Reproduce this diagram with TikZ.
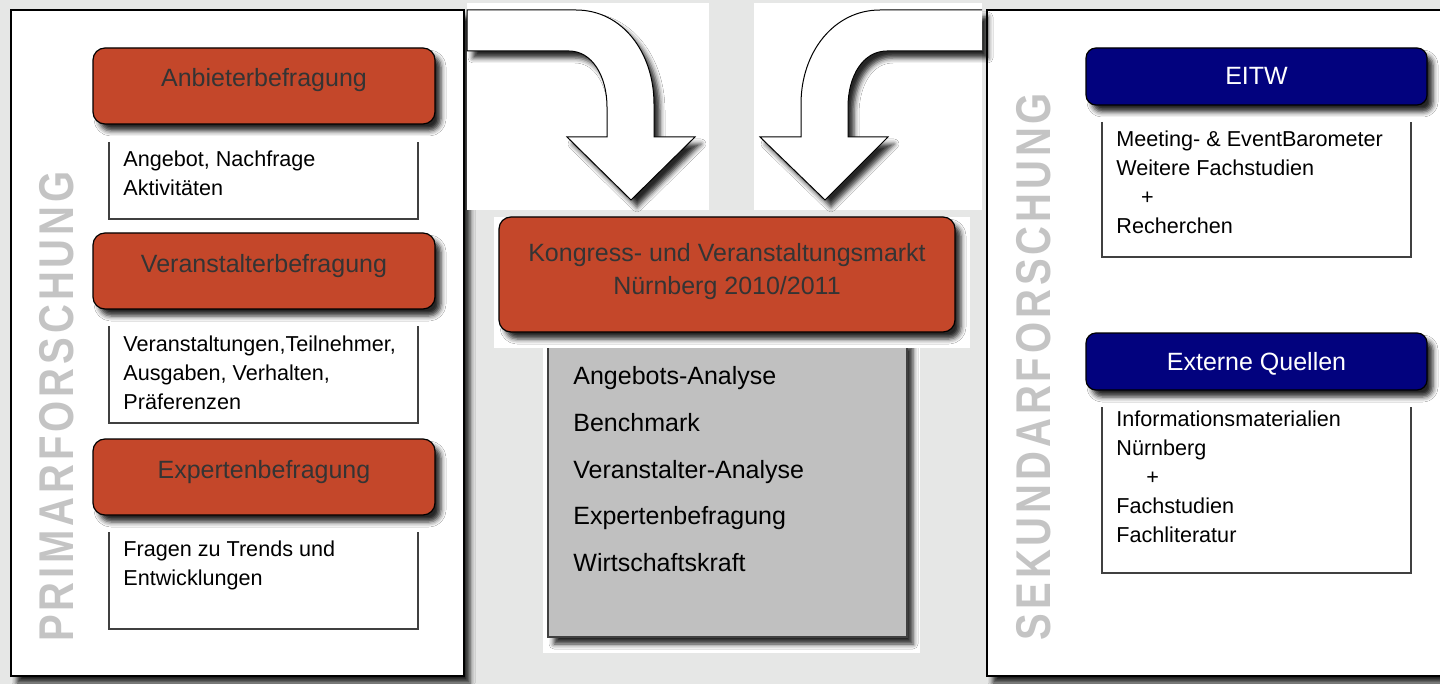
\documentclass[tikz,border=0pt]{standalone}
\usepackage{fontspec}
\setmainfont{Liberation Sans}
\newfontfamily\sidefont[FakeStretch=0.82,LetterSpace=8]{Liberation Sans}
\usetikzlibrary{shadows,shadows.blur}

\definecolor{pagegray}{RGB}{230,231,230}
\definecolor{brick}{RGB}{196,71,42}
\definecolor{navyblue}{RGB}{2,2,126}
\definecolor{titlegray}{RGB}{52,52,52}
\definecolor{boxgray}{RGB}{192,192,192}
\definecolor{sidegray}{RGB}{196,196,196}

\tikzset{
  softshadow/.style={blur shadow={shadow xshift=3pt, shadow yshift=-3.5pt, shadow blur radius=2.5pt, shadow opacity=85}},
  panel/.style={draw=black, line width=0.8pt, fill=white, softshadow},
  backdrop/.style={fill=white},
  arrowfill/.style={fill=white, softshadow},
  arrowline/.style={draw=black, line width=0.5pt},
  redbox/.style={draw=black, line width=0.6pt, fill=brick, rounded corners=6pt,
    minimum width=171pt, minimum height=38pt, text=titlegray,
    font=\fontsize{12.5}{15}\selectfont, text height=9pt, text depth=8pt, softshadow},
  bluebox/.style={draw=black, line width=0.6pt, fill=navyblue, rounded corners=5pt,
    minimum width=170.5pt, minimum height=28.5pt, text=white,
    font=\fontsize{12.5}{15}\selectfont, text height=9pt, text depth=0.5pt, softshadow},
  titletext/.style={inner sep=0pt, text=titlegray, font=\fontsize{12.5}{16.5}\selectfont},
  descbox/.style={minimum width=154.5pt, inner sep=0pt, outer sep=0pt},
  descline/.style={draw=black!75, line width=0.6pt},
  desctext/.style={anchor=north west, inner sep=0pt, align=left, font=\fontsize{10.8}{14.5}\selectfont},
  listbox/.style={draw=black!75, line width=0.6pt, fill=boxgray, minimum width=179.5pt,
    minimum height=148.5pt, inner sep=0pt, softshadow},
  listtext/.style={anchor=north west, inner sep=0pt, align=left, font=\fontsize{12.5}{23.4}\selectfont},
  sidelabel/.style={rotate=90, inner sep=0pt, text=sidegray, font=\sidefont\bfseries\fontsize{24.4}{26}\selectfont}
}

\begin{document}
\begin{tikzpicture}[x=0.5pt,y=-0.5pt]
\useasboundingbox (0,0) rectangle (1440,684);
\fill[pagegray] (0,0) rectangle (1440,684);

% Rahmen links und rechts
\draw[panel] (11,10) rectangle (464,676);
\draw[panel] (987,10) rectangle (1470,676);

% Pfeile zur Mitte
\fill[backdrop] (467,3) rectangle (709,210);
\fill[backdrop] (754,3) rectangle (982,210);
\path[arrowfill] (467,10) -- (576,10) .. controls (622,10) and (654,52) .. (654,104)
  -- (654,137) -- (695,137) -- (631,200) -- (567,137) -- (607,137) -- (607,107)
  .. controls (607,76) and (592,51) .. (569,51) -- (467,51) -- cycle;
\draw[arrowline] (467,10) -- (576,10) .. controls (622,10) and (654,52) .. (654,104)
  -- (654,137) -- (695,137) -- (631,200) -- (567,137) -- (607,137) -- (607,107)
  .. controls (607,76) and (592,51) .. (569,51) -- (467,51) -- cycle;
\path[arrowfill] (982,10) -- (880,10) .. controls (834,10) and (801,52) .. (801,104)
  -- (801,137) -- (760,137) -- (825,200) -- (888,137) -- (848,137) -- (848,107)
  .. controls (848,76) and (863,51) .. (887,51) -- (982,51) -- cycle;
\draw[arrowline] (982,10) -- (880,10) .. controls (834,10) and (801,52) .. (801,104)
  -- (801,137) -- (760,137) -- (825,200) -- (888,137) -- (848,137) -- (848,107)
  .. controls (848,76) and (863,51) .. (887,51) -- (982,51);

% Mitte: Ergebnis
\fill[backdrop] (543,347) rectangle (920,653);
\node[listbox] (analysis) at (727.5,488.5) {};
\fill[backdrop] (494,217) rectangle (970,348);
\node[redbox, minimum width=228pt, minimum height=57.5pt] (market) at (727,274.5) {};
\node[titletext, align=center] (marketname) at (727,272) {Kongress- und Veranstaltungsmarkt\\N\"urnberg 2010/2011};
\node[listtext] (items) at (573,366) {Angebots-Analyse\\Benchmark\\Veranstalter-Analyse\\Expertenbefragung\\Wirtschaftskraft};

% Primaerforschung
\node[descbox, minimum height=38.5pt] (d1) at (263.5,180.5) {};
\node[descbox, minimum height=48.5pt] (d2) at (263.5,374.5) {};
\node[descbox, minimum height=48.5pt] (d3) at (263.5,580.5) {};
\foreach \d in {d1,d2,d3}
  \draw[descline] (\d.north west) |- (\d.south east) -- (\d.north east);
\node[redbox] (anbieter) at (264,86) {Anbieterbefragung};
\node[redbox] (veranst) at (264,271) {Veranstalterbefragung};
\node[redbox] (experten) at (264,477) {Expertenbefragung};
\node[desctext] (t1) at (123,150.5) {Angebot, Nachfrage\\Aktivit\"aten};
\node[desctext] (t2) at (123,335.5) {Veranstaltungen,Teilnehmer,\\Ausgaben, Verhalten,\\Pr\"aferenzen};
\node[desctext] (t3) at (123,540.5) {Fragen zu Trends und\\Entwicklungen};
\node[sidelabel] (prim) at (57,406.5) {PRIMARFORSCHUNG};

% Sekundaerforschung
\node[descbox, minimum height=67.5pt] (e1) at (1256.5,189.5) {};
\node[descbox, minimum height=83pt] (e2) at (1256.5,490) {};
\foreach \d in {e1,e2}
  \draw[descline] (\d.north west) |- (\d.south east) -- (\d.north east);
\node[bluebox] (eitw) at (1256.5,76.5) {EITW};
\node[bluebox] (extern) at (1256.5,361.5) {Externe Quellen};
\node[desctext] (s1) at (1116,130.5) {Meeting- \& EventBarometer\\Weitere Fachstudien\\\hspace*{12.3pt}+\\Recherchen};
\node[desctext] (s2) at (1116,410.5) {Informationsmaterialien\\N\"urnberg\\\hspace*{15pt}+\\Fachstudien\\Fachliteratur};
\node[sidelabel] (sek) at (1034,366.5) {SEKUNDARFORSCHUNG};
\end{tikzpicture}
\end{document}
